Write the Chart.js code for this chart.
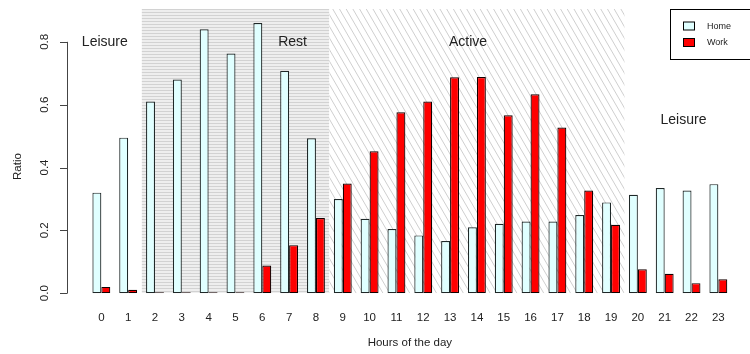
<!DOCTYPE html>
<html>
<head>
<meta charset="utf-8">
<script src="https://cdn.jsdelivr.net/npm/chart.js@4"></script>
<style>
  body { margin: 0; background: #fff; }
  canvas { display: block; }
</style>
</head>
<body>
<canvas id="hours" width="750" height="354"></canvas>
<script>
// Share of time spent at home / at work, per hour of the day
const hours = [0, 1, 2, 3, 4, 5, 6, 7, 8, 9, 10, 11, 12, 13, 14, 15, 16, 17, 18, 19, 20, 21, 22, 23];
const home = [0.32, 0.495, 0.61, 0.68, 0.84, 0.763, 0.86, 0.708, 0.493, 0.30, 0.237, 0.204, 0.184, 0.166, 0.21,
              0.221, 0.228, 0.228, 0.249, 0.289, 0.313, 0.335, 0.327, 0.347];
const work = [0.02, 0.011, 0, 0, 0, 0, 0.088, 0.153, 0.239, 0.349, 0.452, 0.576, 0.61, 0.687, 0.688,
              0.566, 0.633, 0.527, 0.327, 0.218, 0.076, 0.062, 0.032, 0.044];
const yTicks = [0, 0.2, 0.4, 0.6, 0.8];

// Day periods: shaded spans plus their captions
const periods = [
  { name: 'Rest', from: 1.5, to: 8.5, fill: 'lines-h' },
  { name: 'Active', from: 8.5, to: 19.5, fill: 'lines-d' }
];
const captions = [
  { text: 'Leisure', x: 0.13, y: 0.8 },
  { text: 'Rest', x: 7.13, y: 0.8 },
  { text: 'Active', x: 13.67, y: 0.8 },
  { text: 'Leisure', x: 21.7, y: 0.55 }
];

const FONT = '"Liberation Sans", Arial, Helvetica, sans-serif';

function horizontalPattern(ctx) {
  const c = document.createElement('canvas');
  c.width = 4; c.height = 3;
  const p = c.getContext('2d');
  p.fillStyle = '#eeeeee';
  p.fillRect(0, 0, 4, 3);
  p.fillStyle = '#d2d2d2';
  p.fillRect(0, 0, 4, 1);
  return ctx.createPattern(c, 'repeat');
}

const backdrop = {
  id: 'backdrop',
  beforeDatasetsDraw(chart) {
    const { ctx, chartArea, scales } = chart;
    const top = chartArea.top, bottom = chartArea.bottom;
    periods.forEach(p => {
      const x0 = scales.x.getPixelForValue(p.from);
      const x1 = scales.x.getPixelForValue(p.to);
      ctx.save();
      ctx.beginPath();
      ctx.rect(x0, top, x1 - x0, bottom - top);
      ctx.clip();
      if (p.fill === 'lines-h') {
        ctx.fillStyle = horizontalPattern(ctx);
        ctx.fillRect(x0, top, x1 - x0, bottom - top);
      } else {
        // steep "\" hatching
        const h = bottom - top;
        const run = h / Math.tan(Math.PI / 3);
        ctx.strokeStyle = '#cfcfcf';
        ctx.lineWidth = 1;
        ctx.beginPath();
        for (let x = x0 - run; x < x1; x += 6.7) {
          ctx.moveTo(x, top);
          ctx.lineTo(x + run, bottom);
        }
        ctx.stroke();
      }
      ctx.restore();
    });
  },
  afterDatasetsDraw(chart) {
    const { ctx, chartArea, scales } = chart;
    const y = scales.y;
    const left = chartArea.left;
    ctx.save();

    // y axis in base-graphics style: line over tick range, rotated labels
    ctx.strokeStyle = '#444';
    ctx.lineWidth = 1;
    ctx.beginPath();
    ctx.moveTo(left + 0.5, y.getPixelForValue(yTicks[0]));
    ctx.lineTo(left + 0.5, y.getPixelForValue(yTicks[yTicks.length - 1]));
    yTicks.forEach(v => {
      const py = Math.round(y.getPixelForValue(v)) + 0.5;
      ctx.moveTo(left - 7, py);
      ctx.lineTo(left + 0.5, py);
    });
    ctx.stroke();

    ctx.fillStyle = '#222';
    ctx.font = '11.5px ' + FONT;
    ctx.textAlign = 'center';
    ctx.textBaseline = 'middle';
    yTicks.forEach(v => {
      ctx.save();
      ctx.translate(left - 22, y.getPixelForValue(v));
      ctx.rotate(-Math.PI / 2);
      ctx.fillText(v.toFixed(1), 0, 0);
      ctx.restore();
    });
    ctx.save();
    ctx.translate(18, (y.getPixelForValue(0) + y.getPixelForValue(0.8)) / 2 - 1);
    ctx.rotate(-Math.PI / 2);
    ctx.fillText('Ratio', 0, 0);
    ctx.restore();

    // x axis title, centred under the plot region
    ctx.fillText('Hours of the day', scales.x.getPixelForValue(11.5), 343);

    // period captions
    ctx.font = '14px ' + FONT;
    captions.forEach(c => {
      ctx.fillText(c.text, scales.x.getPixelForValue(c.x), y.getPixelForValue(c.y));
    });

    // legend box
    ctx.strokeStyle = '#000';
    ctx.strokeRect(670.5, 9.5, 100, 50);
    const items = [
      { label: 'Home', fill: '#e0ffff', y: 26 },
      { label: 'Work', fill: '#ff0000', y: 42.5 }
    ];
    ctx.font = '9px ' + FONT;
    ctx.textAlign = 'left';
    items.forEach(it => {
      ctx.fillStyle = it.fill;
      ctx.fillRect(683.5, it.y - 4, 11, 8);
      ctx.strokeStyle = '#000';
      ctx.strokeRect(683.5, it.y - 4, 11, 8);
      ctx.fillStyle = '#222';
      ctx.fillText(it.label, 707, it.y + 0.5);
    });
    ctx.restore();
  }
};

new Chart(document.getElementById('hours'), {
  type: 'bar',
  data: {
    datasets: [
      {
        label: 'Home',
        data: hours.map((h, i) => ({ x: h, y: home[i] })),
        backgroundColor: '#e0ffff',
        borderColor: '#1f2828',
        borderWidth: 1.2,
        borderSkipped: false,
        minBarLength: 1,
        categoryPercentage: 2 / 3,
        barPercentage: 1
      },
      {
        label: 'Work',
        data: hours.map((h, i) => ({ x: h, y: work[i] })),
        backgroundColor: '#ff0000',
        borderColor: '#140000',
        borderWidth: 1.2,
        borderSkipped: false,
        minBarLength: 1,
        categoryPercentage: 2 / 3,
        barPercentage: 1
      }
    ]
  },
  options: {
    responsive: false,
    animation: false,
    devicePixelRatio: 1,
    layout: { padding: { left: 67, top: 9, right: 0, bottom: 12 } },
    plugins: { legend: { display: false }, tooltip: { enabled: false } },
    scales: {
      x: {
        type: 'linear',
        offset: false,
        min: -1.28,
        max: 24.18,
        grid: { display: false, drawTicks: false, offset: false },
        border: { display: false },
        afterBuildTicks: scale => { scale.ticks = hours.map(h => ({ value: h })); },
        ticks: {
          padding: 17.5,
          maxRotation: 0,
          autoSkip: false,
          color: '#222',
          font: { family: FONT, size: 11.5 },
          callback: v => String(v)
        },
        title: { display: false }
      },
      y: {
        display: false,
        min: 0,
        max: 0.9045
      }
    }
  },
  plugins: [backdrop]
});
</script>
</body>
</html>
